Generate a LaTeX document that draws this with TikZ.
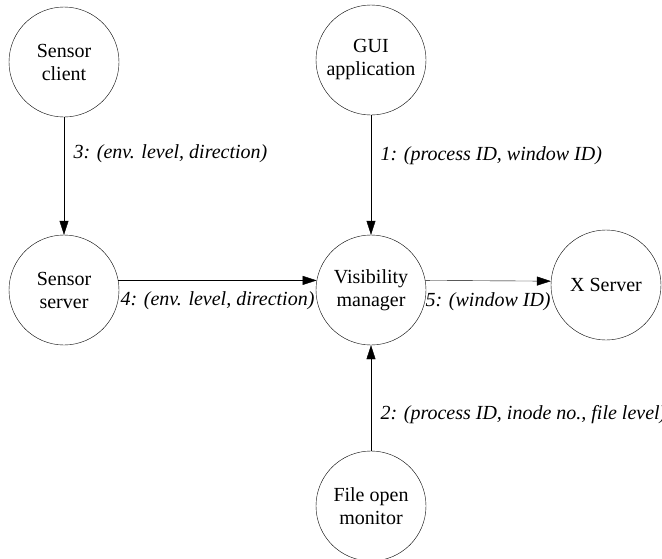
\documentclass[tikz,border=0pt]{standalone}
\usepackage{fontspec}
\setmainfont{Liberation Serif}
\usetikzlibrary{arrows.meta,positioning}

\begin{document}
\begin{tikzpicture}[
    x=1pt, y=-1pt,
    proc/.style={draw, circle, minimum size=110pt, inner sep=0pt, align=center,
                 font=\fontsize{20}{23}\selectfont},
    msglabel/.style={font=\fontsize{20}{23}\selectfont\itshape},
    arrow/.style={-{Triangle[length=14pt, width=9pt]}, thin}
]
\clip (0,0) rectangle (662,558);

% Processes
\node[proc] (sclient) at (64, 62) {Sensor\\client};
\node[proc] (gui) at (371, 60) {GUI\\application};
\node[proc] (sserver) at (64, 290) {Sensor\\server};
\node[proc] (vis) at (371, 290) {Visibility\\manager};
\node[proc] (xserv) at (606, 285) {X Server};
\node[proc] (fopen) at (371, 506) {File open\\monitor};

% Messages
\draw[arrow] (gui) -- (vis)
    node[pos=0.34, right=6pt, msglabel] {1: (process ID, window ID)};
\draw[arrow] (fopen) -- (vis)
    node[pos=0.34, right=6pt, msglabel] {2: (process ID, inode no., file level)};
\draw[arrow] (sclient) -- (sserver)
    node[pos=0.31, right=6pt, msglabel] {3: (env. level, direction)};
\draw[arrow] (sserver.10) -- (vis.170)
    node[midway, below=8pt, msglabel] {4: (env. level, direction)};
\draw[arrow] (vis.10) -- (xserv.176)
    node[midway, below=8pt, msglabel] {5: (window ID)};
\end{tikzpicture}
\end{document}
